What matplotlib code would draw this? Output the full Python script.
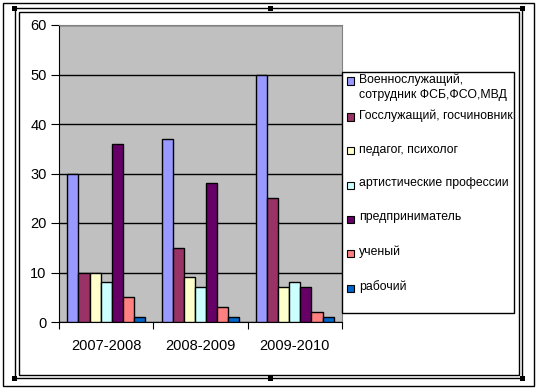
import numpy as np
import matplotlib.pyplot as plt
from matplotlib.patches import Rectangle

plt.rcParams['font.family'] = ['Liberation Sans', 'DejaVu Sans']

periods = ["2007-2008", "2008-2009", "2009-2010"]
series_names = [
    "Военнослужащий,\nсотрудник ФСБ,ФСО,МВД",
    "Госслужащий, госчиновник",
    "педагог, психолог",
    "артистические профессии",
    "предприниматель",
    "ученый",
    "рабочий",
]
voennye = [30, 37, 50]
gossluzh = [10, 15, 25]
pedagog = [10, 9, 7]
artist = [8, 7, 8]
predprin = [36, 28, 7]
uchenyi = [5, 3, 2]
rabochii = [1, 1, 1]
values = [voennye, gossluzh, pedagog, artist, predprin, uchenyi, rabochii]
colors = ["#9999FF", "#993366", "#FFFFCC", "#CCFFFF", "#660066", "#FF8080", "#0066CC"]

W, H = 539, 390
fig = plt.figure(figsize=(W / 100, H / 100), dpi=100)


def fx(px):
    return px / W


def fy(py):
    return 1 - py / H


# outer frame and selection-like double border
fig.patches.append(Rectangle((fx(3), fy(386)), fx(531), 383 / H, transform=fig.transFigure,
                             fill=False, edgecolor="black", lw=1))
for off in (0, 3.5):
    fig.patches.append(Rectangle((fx(15 + off), fy(378 - off)), fx(507 - 2 * off), (370 - 2 * off) / H,
                                 transform=fig.transFigure, fill=False, edgecolor="black", lw=1))
for hx, hy in [(15, 8), (270, 8), (522, 8), (15, 378), (270, 378), (522, 378)]:
    fig.patches.append(Rectangle((fx(hx - 2.5), fy(hy + 2.5)), fx(5), 5 / H, transform=fig.transFigure,
                                 facecolor="black", edgecolor="none"))

ax = fig.add_axes([fx(59), fy(322), fx(283), 297 / H])
ax.set_facecolor("#C0C0C0")

n = len(values)
bw = 1 / (n + 1.5)
x = np.arange(len(periods))
for i, (vals, c) in enumerate(zip(values, colors)):
    ax.bar(x - 0.5 + 0.75 * bw + (i + 0.5) * bw, vals, width=bw, color=c,
           edgecolor="black", linewidth=1, zorder=3)

ax.set_xlim(-0.5, 2.5)
ax.set_ylim(0, 60)
ax.set_yticks(range(0, 61, 10))
ax.yaxis.grid(True, color="black", lw=1, zorder=1)
ax.set_xticks([-0.5, 0.5, 1.5, 2.5])
ax.set_xticklabels([])
ax.set_xticks(x, minor=True)
ax.set_xticklabels(periods, minor=True, fontsize=10.5)
ax.tick_params(axis="x", which="minor", length=0, pad=12)
ax.tick_params(axis="x", which="major", length=5, direction="out")
ax.tick_params(axis="y", length=6, direction="out", pad=3, labelsize=10.5)
for s in ("top", "right"):
    ax.spines[s].set_color("#808080")
for s in ("left", "bottom"):
    ax.spines[s].set_color("black")

# legend drawn as in the original spreadsheet chart
fig.patches.append(Rectangle((fx(342), fy(313)), fx(172), 241 / H, transform=fig.transFigure,
                             facecolor="white", edgecolor="black", lw=1))
entry_y = [81, 117, 151, 185, 219, 253, 288]
for name, c, yy in zip(series_names, colors, entry_y):
    fig.patches.append(Rectangle((fx(347), fy(yy + 3.5)), fx(7), 7 / H, transform=fig.transFigure,
                                 facecolor=c, edgecolor="black", lw=0.8))
    fig.text(fx(359), fy(yy - 7.5), name, fontsize=8.8, va="top", ha="left", linespacing=1.3)

fig.savefig("out.png", dpi=100)
